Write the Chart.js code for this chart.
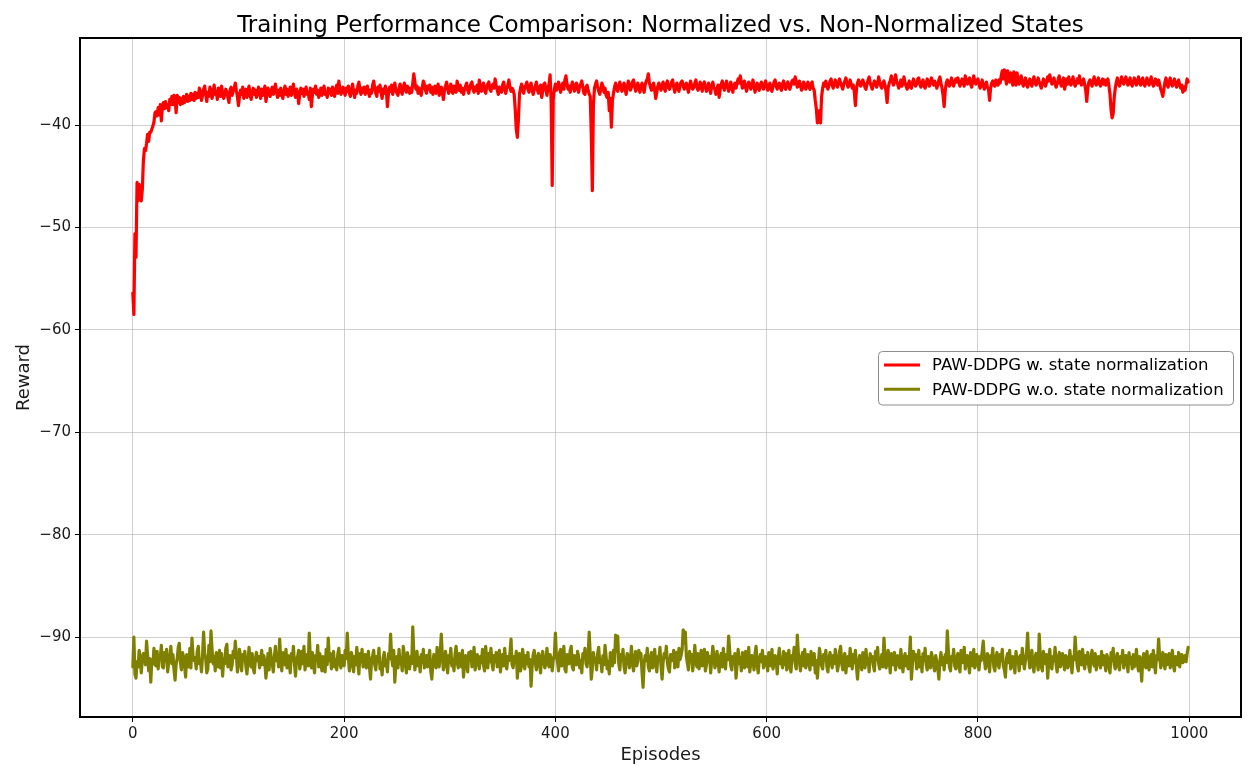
<!DOCTYPE html>
<html><head><meta charset="utf-8">
<script src="https://cdn.jsdelivr.net/npm/chart.js@4.4.0/dist/chart.umd.min.js"></script>
<style>html,body{margin:0;padding:0;background:#fff;overflow:hidden}canvas{display:block}</style>
</head><body>
<canvas id="c" width="1258" height="780" style="width:1258px;height:780px"></canvas>
<script>
const chartTitle = "Training Performance Comparison: Normalized vs. Non-Normalized States";
const xAxisTitle = "Episodes";
const yAxisTitle = "Reward";
const seriesLabels = ["PAW-DDPG w. state normalization", "PAW-DDPG w.o. state normalization"];
const seriesColors = ["#ff0000", "#808000"];
const xTicks = [0, 200, 400, 600, 800, 1000];
const yTicks = [-90, -80, -70, -60, -50, -40];

const rewardNormalized = [
-56.4,-58.5,-50.6,-52.9,-45.6,-47.4,-45.8,-46.8,-47.4,-46.3,-43.5,-42.3,-42.5,-41.8,-40.9,-41.6,-40.7,-40.7,-40.4,-40.1,
-39.7,-38.8,-38.7,-39.1,-38.3,-39.0,-38.0,-39.6,-38.2,-37.8,-38.4,-37.7,-38.3,-38.0,-38.6,-37.5,-38.0,-37.2,-38.0,-37.1,
-37.4,-38.8,-37.1,-37.8,-37.3,-38.0,-37.4,-37.9,-37.2,-37.8,-37.5,-37.0,-37.7,-37.2,-37.6,-36.9,-37.5,-37.0,-37.6,-36.8,
-37.4,-36.9,-37.3,-36.4,-36.7,-37.6,-37.1,-36.5,-36.2,-37.0,-37.7,-36.8,-37.2,-36.3,-36.6,-37.4,-36.9,-36.1,-37.0,-36.7,
-37.5,-36.4,-36.8,-37.2,-36.2,-36.9,-37.4,-37.0,-36.5,-36.8,-37.3,-37.8,-36.6,-36.3,-37.1,-36.7,-36.4,-35.9,-36.6,-37.2,
-38.1,-37.2,-36.6,-37.0,-36.3,-37.4,-36.9,-36.5,-37.3,-36.7,-36.2,-37.1,-37.5,-36.8,-36.4,-37.0,-36.6,-37.3,-36.9,-36.3,
-36.8,-37.4,-36.5,-37.1,-36.7,-36.2,-37.7,-37.0,-36.4,-36.9,-37.2,-36.6,-36.3,-37.0,-36.5,-36.0,-36.8,-37.3,-36.6,-37.1,
-36.4,-36.9,-37.4,-36.7,-36.2,-37.0,-36.5,-37.2,-36.8,-36.3,-37.1,-36.6,-36.0,-36.9,-37.3,-36.5,-36.8,-37.9,-37.0,-36.4,
-36.9,-36.5,-37.2,-36.7,-36.3,-37.0,-36.8,-37.5,-36.4,-38.2,-37.1,-36.5,-36.8,-36.2,-37.0,-36.6,-37.3,-36.9,-36.4,-37.1,
-36.6,-36.2,-37.0,-36.8,-37.3,-36.4,-36.9,-36.5,-37.1,-36.3,-36.7,-37.2,-36.5,-36.1,-36.9,-35.7,-36.4,-37.0,-36.6,-36.3,
-36.8,-37.1,-36.4,-36.7,-36.2,-36.9,-37.2,-36.5,-36.0,-36.7,-37.3,-36.6,-36.9,-36.2,-35.8,-36.5,-37.0,-36.4,-36.8,-36.3,
-37.0,-36.5,-36.2,-36.8,-37.2,-36.6,-36.9,-36.1,-35.7,-36.4,-36.9,-37.2,-36.3,-36.7,-36.1,-36.8,-37.4,-36.5,-36.9,-36.2,
-36.6,-38.2,-36.9,-36.3,-36.7,-36.1,-37.0,-36.5,-35.9,-36.6,-36.9,-37.1,-36.4,-36.0,-36.7,-37.0,-36.3,-35.9,-36.5,-36.8,
-36.2,-36.6,-36.9,-36.4,-36.8,-35.9,-35.0,-35.8,-36.5,-36.2,-36.9,-36.4,-36.7,-37.1,-36.3,-35.7,-36.0,-36.6,-36.9,-36.2,
-36.5,-36.1,-36.8,-36.3,-37.0,-36.6,-36.2,-36.9,-36.4,-36.0,-37.1,-36.7,-36.3,-36.8,-37.5,-36.6,-36.2,-35.8,-36.5,-36.9,
-36.4,-36.0,-36.7,-36.9,-36.2,-36.5,-36.8,-35.7,-36.3,-36.6,-36.1,-36.8,-36.4,-37.0,-36.5,-36.2,-35.9,-36.6,-36.9,-36.3,
-36.0,-35.8,-36.5,-36.8,-36.3,-36.6,-36.1,-36.9,-35.6,-36.2,-36.7,-36.4,-35.9,-36.6,-36.9,-36.3,-36.0,-35.8,-36.5,-36.7,
-36.2,-36.0,-36.4,-35.5,-36.2,-36.6,-37.0,-36.3,-36.5,-36.8,-36.1,-35.8,-36.5,-36.9,-36.4,-36.1,-35.6,-36.3,-36.7,-36.4,
-36.6,-37.0,-38.5,-40.4,-41.2,-39.5,-37.0,-36.4,-36.0,-36.6,-36.9,-36.3,-36.1,-35.8,-36.5,-36.8,-36.2,-35.9,-36.6,-37.0,
-36.5,-36.2,-35.8,-36.6,-36.9,-36.3,-36.1,-37.3,-36.7,-36.0,-35.9,-36.5,-37.1,-36.4,-36.0,-35.1,-37.8,-45.9,-37.4,-36.5,
-36.0,-36.6,-36.3,-35.8,-36.4,-36.8,-36.2,-35.9,-36.5,-35.6,-35.2,-36.0,-36.5,-36.2,-36.8,-36.3,-35.8,-36.1,-36.7,-36.4,
-35.9,-36.4,-36.8,-36.2,-36.0,-35.7,-36.3,-36.9,-37.0,-36.3,-36.1,-36.6,-37.0,-37.2,-41.0,-46.4,-38.0,-36.4,-36.0,-35.7,
-36.3,-36.7,-37.0,-36.5,-35.9,-36.2,-36.8,-36.4,-37.1,-37.3,-36.8,-38.6,-37.4,-40.2,-37.6,-36.9,-36.3,-35.9,-36.4,-36.7,
-36.2,-35.8,-36.3,-36.7,-36.2,-35.9,-36.5,-37.0,-36.3,-35.7,-36.0,-36.6,-36.3,-35.8,-35.6,-36.2,-36.7,-36.4,-35.9,-36.3,
-36.8,-36.3,-35.9,-36.4,-36.8,-36.1,-35.7,-35.5,-35.0,-35.9,-36.3,-36.6,-36.1,-35.9,-36.6,-37.4,-36.8,-36.2,-35.9,-36.3,
-36.6,-36.1,-35.8,-36.4,-36.7,-36.0,-35.7,-36.3,-36.5,-36.2,-35.8,-35.6,-36.3,-36.8,-36.2,-35.9,-36.5,-36.7,-36.1,-35.8,
-35.7,-36.2,-36.5,-36.1,-35.9,-36.4,-36.8,-36.1,-35.7,-36.2,-36.5,-36.3,-35.9,-35.6,-36.3,-36.6,-36.4,-35.8,-36.2,-36.7,
-36.0,-35.8,-36.3,-36.7,-36.3,-35.9,-36.4,-36.9,-36.2,-35.8,-36.3,-36.5,-37.0,-36.4,-36.1,-37.3,-36.5,-36.0,-35.7,-36.3,
-36.6,-36.1,-35.7,-36.2,-36.7,-36.4,-35.8,-36.3,-36.8,-36.1,-35.9,-36.4,-35.9,-35.5,-35.9,-35.2,-35.8,-36.4,-36.1,-35.7,
-36.3,-36.7,-36.2,-35.8,-36.0,-36.5,-36.2,-35.6,-36.2,-36.8,-36.3,-35.9,-36.4,-36.6,-36.1,-35.8,-36.2,-36.5,-36.0,-35.7,
-36.2,-36.6,-36.3,-35.9,-36.5,-36.7,-36.2,-35.8,-35.6,-36.2,-36.5,-36.1,-35.9,-36.4,-36.6,-36.0,-35.7,-36.3,-36.5,-36.0,
-35.8,-36.3,-36.5,-36.1,-35.7,-35.6,-36.0,-35.3,-35.8,-36.3,-36.2,-35.7,-36.1,-36.6,-36.4,-35.8,-36.1,-36.5,-36.2,-35.8,
-36.3,-36.5,-36.0,-35.8,-36.4,-36.6,-37.6,-38.4,-39.8,-39.6,-38.6,-39.8,-37.2,-36.4,-35.9,-36.2,-35.7,-36.2,-36.5,-36.1,
-35.7,-35.5,-36.1,-36.4,-36.0,-35.6,-36.0,-36.3,-35.9,-35.5,-35.9,-36.2,-36.5,-36.0,-35.7,-35.4,-35.9,-36.3,-36.1,-35.6,
-36.0,-36.4,-36.1,-36.8,-38.1,-36.5,-35.9,-35.6,-35.8,-36.2,-36.0,-35.6,-35.9,-36.3,-36.5,-36.0,-35.6,-35.3,-35.9,-36.2,
-36.5,-36.0,-35.7,-35.9,-36.3,-36.0,-35.3,-35.8,-36.2,-36.4,-35.9,-35.7,-36.1,-36.7,-37.8,-36.4,-35.9,-35.7,-35.2,-35.8,
-36.1,-35.8,-35.1,-35.7,-36.0,-36.4,-36.1,-35.6,-36.2,-35.9,-35.3,-35.9,-36.2,-36.5,-36.0,-35.7,-36.3,-36.4,-35.9,-35.5,
-35.9,-36.2,-36.0,-35.5,-35.4,-36.0,-36.3,-35.9,-35.6,-36.2,-36.4,-35.9,-35.5,-35.9,-36.2,-35.8,-35.4,-35.9,-36.1,-35.7,
-36.0,-36.4,-36.1,-35.6,-35.3,-35.9,-36.4,-37.1,-38.2,-36.7,-35.9,-35.6,-36.0,-36.2,-35.8,-35.4,-36.0,-36.2,-35.8,-35.5,
-35.8,-35.4,-35.9,-36.2,-35.8,-35.5,-35.9,-36.2,-35.2,-35.7,-36.0,-35.6,-35.4,-36.0,-36.3,-35.8,-35.2,-35.8,-36.0,-35.7,
-35.5,-36.0,-36.4,-36.1,-35.6,-36.1,-36.5,-36.2,-35.8,-36.3,-36.5,-37.6,-36.4,-35.9,-35.7,-36.1,-36.2,-35.6,-36.0,-36.1,
-35.6,-35.9,-35.2,-34.7,-35.5,-34.6,-35.3,-36.0,-34.7,-35.2,-35.8,-34.9,-35.6,-36.1,-34.8,-35.4,-36.1,-34.9,-35.5,-36.0,
-35.6,-35.2,-35.9,-36.2,-35.8,-35.4,-36.0,-36.3,-35.8,-35.5,-35.9,-36.2,-35.7,-35.3,-35.9,-36.1,-35.8,-35.4,-35.8,-36.1,
-36.4,-35.9,-35.5,-35.9,-36.2,-35.8,-35.3,-35.7,-35.1,-35.6,-36.0,-35.7,-35.4,-36.0,-36.3,-36.0,-35.5,-35.2,-35.9,-36.2,
-35.8,-35.4,-36.5,-36.0,-35.5,-36.0,-35.3,-35.9,-36.1,-35.7,-35.3,-35.9,-36.2,-35.9,-35.5,-35.9,-35.2,-35.8,-36.1,-35.8,
-35.5,-36.0,-36.6,-37.7,-36.4,-35.8,-35.6,-35.9,-36.2,-35.7,-35.3,-35.9,-36.1,-35.7,-35.4,-36.0,-36.2,-35.8,-35.5,-36.0,
-35.6,-36.1,-35.7,-35.5,-36.2,-37.0,-38.5,-39.3,-38.9,-37.3,-36.4,-35.8,-35.4,-36.0,-36.2,-35.8,-35.3,-35.8,-36.0,-35.6,
-35.3,-35.8,-36.1,-35.7,-35.4,-36.0,-36.2,-35.8,-35.4,-35.8,-36.1,-35.7,-35.3,-35.9,-36.1,-35.6,-35.4,-36.0,-36.2,-35.8,
-35.4,-35.9,-36.1,-35.7,-35.3,-35.9,-36.2,-35.9,-35.5,-35.9,-36.1,-35.6,-36.0,-36.5,-36.8,-37.2,-36.5,-35.8,-35.4,-36.0,
-36.3,-35.8,-35.4,-36.0,-36.2,-35.8,-35.5,-36.0,-36.3,-35.9,-35.6,-36.1,-36.4,-36.1,-36.8,-36.3,-36.6,-36.1,-35.5,-35.8
];

const rewardNonNormalized = [
-92.9,-90.0,-93.6,-94.0,-92.4,-92.9,-91.3,-92.0,-93.5,-92.2,-91.6,-91.9,-92.7,-90.4,-91.8,-93.3,-92.1,-94.4,-92.2,-92.6,
-91.1,-92.7,-92.8,-91.4,-93.1,-91.8,-92.0,-90.8,-92.9,-93.0,-91.5,-92.3,-91.2,-93.4,-92.4,-92.0,-90.9,-92.6,-91.7,-93.2,
-94.2,-92.6,-92.1,-91.0,-90.6,-92.4,-93.2,-91.5,-91.9,-92.8,-93.9,-91.7,-92.5,-92.9,-91.1,-93.0,-90.1,-91.9,-92.3,-92.0,
-93.1,-91.4,-90.9,-92.6,-92.3,-93.4,-91.8,-89.5,-91.6,-92.1,-93.5,-93.1,-90.8,-92.4,-89.4,-91.2,-92.6,-91.9,-93.3,-91.5,
-92.4,-92.9,-91.3,-93.0,-91.6,-93.8,-92.1,-92.6,-91.1,-90.7,-92.9,-92.3,-91.8,-93.2,-92.7,-91.4,-92.0,-90.4,-91.7,-93.4,
-92.6,-91.2,-92.0,-93.3,-91.7,-92.2,-91.4,-92.8,-93.6,-92.5,-91.0,-92.4,-92.9,-91.6,-93.1,-93.5,-92.2,-91.5,-92.3,-91.9,
-93.0,-92.1,-91.3,-92.7,-91.8,-92.5,-94.0,-92.8,-91.6,-93.2,-91.1,-92.0,-92.6,-93.4,-91.9,-90.9,-92.3,-91.7,-92.9,-90.2,
-92.2,-93.3,-91.5,-92.0,-92.7,-91.2,-93.0,-91.8,-92.4,-93.5,-91.6,-92.3,-90.9,-92.6,-93.8,-92.1,-91.9,-91.3,-93.1,-92.5,
-91.4,-92.6,-90.9,-93.2,-92.3,-91.7,-92.8,-89.6,-92.0,-93.0,-91.5,-92.4,-93.5,-91.8,-92.2,-90.8,-92.9,-91.6,-92.4,-93.3,
-91.9,-92.5,-93.4,-91.2,-92.7,-90.1,-92.3,-91.6,-93.1,-92.0,-91.4,-92.9,-92.2,-93.2,-91.7,-91.1,-92.6,-93.0,-91.8,-92.3,
-92.8,-91.3,-92.1,-89.6,-91.8,-93.3,-92.6,-91.5,-92.2,-93.4,-91.9,-92.7,-91.0,-92.5,-93.6,-91.6,-92.4,-91.2,-92.9,-92.0,
-91.7,-93.0,-92.5,-91.4,-92.9,-94.1,-92.2,-91.8,-91.3,-92.7,-93.2,-91.9,-92.4,-91.1,-93.1,-92.6,-93.7,-92.0,-91.5,-92.8,
-92.3,-93.4,-91.6,-92.1,-89.7,-92.0,-92.8,-91.3,-94.4,-92.5,-91.9,-93.0,-91.2,-92.6,-92.2,-93.3,-90.9,-91.7,-92.7,-93.5,
-91.5,-92.4,-93.1,-91.9,-92.6,-89.0,-91.6,-93.2,-92.3,-91.4,-92.8,-92.0,-93.4,-91.7,-92.5,-91.2,-93.0,-92.2,-91.8,-92.9,
-92.0,-91.3,-93.3,-94.1,-92.6,-91.7,-92.2,-93.0,-91.0,-92.4,-92.9,-91.5,-89.7,-91.9,-93.2,-92.7,-91.4,-92.3,-93.5,-91.8,
-92.5,-91.1,-92.8,-92.2,-93.3,-91.7,-90.9,-92.4,-93.0,-91.6,-92.1,-92.9,-91.3,-93.9,-92.7,-91.8,-92.3,-93.4,-91.5,-92.0,
-91.4,-92.9,-92.3,-91.0,-93.2,-92.6,-91.7,-92.1,-93.1,-91.9,-92.5,-91.2,-92.8,-93.3,-90.9,-92.2,-93.0,-91.6,-92.4,-91.1,
-92.6,-93.2,-91.8,-92.4,-91.5,-92.9,-92.0,-91.3,-93.4,-92.2,-91.7,-92.8,-91.1,-92.5,-93.1,-91.9,-92.3,-91.6,-90.2,-92.7,
-93.0,-91.9,-92.5,-91.4,-94.0,-92.3,-91.6,-93.3,-92.7,-91.2,-92.1,-93.1,-91.8,-92.6,-91.5,-92.9,-92.2,-94.8,-92.8,-91.7,
-91.3,-92.5,-93.2,-92.0,-91.6,-92.7,-93.5,-91.9,-91.4,-92.3,-93.0,-92.6,-91.1,-92.4,-92.9,-91.7,-92.1,-93.3,-92.2,-91.8,
-89.6,-91.9,-92.4,-93.3,-91.5,-91.2,-92.8,-92.1,-90.9,-93.1,-93.4,-91.7,-92.2,-92.6,-91.3,-90.9,-92.9,-93.2,-91.8,-92.4,
-92.7,-91.4,-91.9,-93.0,-92.3,-93.5,-91.6,-92.0,-91.1,-92.6,-92.9,-91.8,-89.5,-91.7,-94.1,-93.0,-91.5,-92.3,-92.1,-93.2,
-91.6,-91.0,-92.5,-92.2,-93.4,-91.8,-92.7,-90.8,-91.9,-93.1,-92.4,-93.6,-91.5,-92.0,-92.8,-91.3,-92.5,-89.8,-91.4,-89.9,
-92.6,-93.2,-91.7,-92.1,-91.2,-92.9,-93.5,-92.3,-91.6,-91.9,-93.0,-92.2,-90.9,-92.7,-93.3,-92.0,-91.4,-92.8,-92.4,-91.3,
-92.0,-91.6,-93.4,-94.9,-92.6,-91.8,-92.3,-91.1,-92.9,-93.3,-92.1,-91.5,-93.0,-92.5,-91.2,-92.7,-93.4,-91.9,-92.2,-91.0,
-92.8,-94.1,-92.4,-91.6,-92.0,-90.9,-92.5,-93.1,-93.4,-91.7,-92.3,-92.0,-91.3,-93.0,-92.6,-91.5,-92.9,-91.1,-92.2,-91.8,
-91.2,-89.3,-90.6,-89.5,-91.9,-92.6,-93.2,-91.4,-92.1,-91.7,-93.3,-92.2,-90.8,-92.5,-92.9,-91.6,-93.1,-92.4,-91.3,-92.8,
-92.0,-91.2,-93.3,-92.7,-91.5,-92.4,-91.9,-93.5,-92.2,-90.9,-91.8,-93.0,-92.6,-91.4,-92.3,-93.4,-92.0,-91.6,-92.9,-91.1,
-92.5,-93.1,-91.7,-92.2,-89.9,-91.3,-92.8,-93.2,-91.9,-92.4,-91.6,-94.0,-92.7,-91.2,-92.6,-92.0,-93.3,-91.5,-92.1,-93.0,
-91.4,-92.3,-92.9,-91.0,-93.4,-92.5,-91.8,-92.1,-93.2,-91.6,-90.9,-92.7,-93.5,-92.2,-91.7,-92.4,-91.3,-93.0,-92.6,-91.9,
-92.4,-93.3,-91.5,-92.0,-92.8,-91.2,-93.1,-92.5,-91.8,-92.3,-93.6,-91.9,-91.1,-92.6,-92.2,-93.0,-91.4,-92.7,-91.6,-93.2,
-92.1,-91.3,-92.9,-93.4,-91.8,-92.2,-91.0,-92.6,-93.1,-89.8,-91.6,-92.4,-93.3,-92.0,-91.5,-92.8,-91.2,-93.0,-92.3,-91.7,
-92.6,-93.2,-91.4,-92.1,-92.7,-91.6,-93.5,-92.3,-94.0,-92.5,-91.1,-91.9,-92.8,-93.1,-91.7,-92.2,-91.3,-92.9,-93.4,-92.0,
-91.5,-92.4,-93.0,-91.8,-92.6,-91.2,-92.1,-93.3,-92.7,-91.4,-90.9,-92.5,-93.2,-92.0,-91.6,-93.5,-92.3,-91.9,-92.8,-91.1,
-92.2,-93.1,-91.7,-92.5,-91.3,-92.9,-94.1,-92.6,-91.8,-92.0,-93.2,-91.5,-92.4,-93.0,-91.2,-92.7,-92.1,-93.4,-91.6,-92.3,
-91.9,-92.8,-93.3,-91.4,-92.2,-91.0,-92.6,-93.1,-92.4,-91.7,-92.9,-90.1,-91.8,-93.0,-92.5,-91.3,-92.3,-93.5,-91.6,-92.1,
-92.7,-91.5,-93.2,-92.0,-91.8,-92.6,-93.0,-91.2,-92.4,-93.4,-92.1,-91.6,-92.8,-91.9,-93.1,-92.3,-90.0,-94.1,-92.6,-91.4,
-92.2,-91.7,-93.1,-92.5,-91.3,-92.9,-92.0,-93.4,-91.6,-92.3,-91.1,-92.7,-93.2,-91.9,-92.4,-93.0,-91.5,-92.1,-92.8,-93.3,
-91.8,-92.4,-93.0,-94.1,-92.3,-91.5,-92.7,-92.0,-93.2,-91.7,-92.5,-89.4,-91.4,-92.9,-93.3,-91.9,-92.2,-91.2,-92.8,-93.1,
-92.0,-91.6,-92.9,-93.4,-91.3,-92.5,-92.2,-91.0,-93.1,-92.6,-91.8,-92.3,-93.5,-91.5,-92.1,-92.8,-91.2,-93.0,-92.4,-91.7,
-92.6,-93.2,-91.9,-92.3,-91.4,-90.4,-92.0,-93.1,-92.7,-91.6,-92.4,-93.4,-91.8,-92.2,-91.1,-92.9,-93.3,-92.0,-91.5,-92.6,
-93.0,-91.7,-92.3,-91.2,-92.8,-93.2,-93.9,-92.1,-91.6,-92.5,-91.3,-93.1,-92.4,-91.9,-92.7,-93.5,-91.4,-92.2,-92.0,-93.3,
-91.8,-92.6,-91.1,-92.4,-93.1,-92.2,-91.5,-89.6,-91.9,-93.0,-92.5,-91.3,-92.8,-93.4,-92.0,-91.6,-92.3,-93.2,-89.7,-91.8,
-92.9,-93.3,-91.4,-92.1,-92.6,-91.7,-94.0,-92.4,-91.2,-92.8,-93.1,-91.9,-92.3,-91.0,-92.7,-93.4,-92.1,-91.5,-92.9,-92.2,
-91.6,-92.5,-93.2,-91.8,-92.0,-93.0,-92.6,-91.3,-92.4,-93.5,-91.9,-92.2,-90.0,-91.7,-92.8,-93.3,-91.4,-92.1,-92.7,-91.2,
-92.3,-93.1,-91.8,-92.6,-91.5,-92.9,-93.4,-92.0,-91.3,-92.4,-92.8,-91.6,-93.2,-92.2,-91.9,-92.5,-93.0,-91.4,-92.7,-91.8,
-92.4,-93.3,-91.7,-92.1,-92.9,-93.5,-91.5,-92.3,-91.1,-92.7,-93.1,-92.0,-91.6,-92.8,-93.2,-91.9,-92.4,-91.3,-93.0,-92.5,
-91.8,-92.2,-93.4,-91.5,-92.6,-92.0,-93.1,-91.7,-92.9,-92.3,-91.2,-92.7,-93.3,-91.9,-92.5,-94.3,-92.1,-91.6,-92.8,-93.0,
-91.4,-92.6,-93.2,-92.0,-91.7,-92.9,-91.3,-92.4,-93.5,-91.8,-92.2,-90.2,-91.9,-93.0,-92.6,-91.5,-92.3,-93.1,-91.7,-92.7,
-92.1,-91.6,-93.0,-92.4,-91.3,-92.8,-93.3,-91.9,-92.2,-92.7,-91.5,-92.9,-92.0,-91.7,-92.5,-92.2,-91.8,-92.4,-91.6,-91.0
];

const episodes = rewardNormalized.map((_, i) => i);
const FONT = "'DejaVu Sans', 'Liberation Sans', sans-serif";

const decorPlugin = {
  id: 'decor',
  afterDraw(chart) {
    const ctx = chart.ctx, a = chart.chartArea;
    ctx.save();
    ctx.strokeStyle = '#000';
    ctx.lineWidth = 2;
    ctx.strokeRect(a.left, a.top, a.right - a.left, a.bottom - a.top);
    ctx.fillStyle = '#000';
    ctx.font = "23px " + FONT;
    ctx.textAlign = 'center';
    ctx.textBaseline = 'alphabetic';
    ctx.fillText(chartTitle, (a.left + a.right) / 2, 32);
    const bx = 878.5, by = 351.5, bw = 355, bh = 53.5, r = 4;
    ctx.beginPath();
    ctx.moveTo(bx + r, by);
    ctx.lineTo(bx + bw - r, by); ctx.arcTo(bx + bw, by, bx + bw, by + r, r);
    ctx.lineTo(bx + bw, by + bh - r); ctx.arcTo(bx + bw, by + bh, bx + bw - r, by + bh, r);
    ctx.lineTo(bx + r, by + bh); ctx.arcTo(bx, by + bh, bx, by + bh - r, r);
    ctx.lineTo(bx, by + r); ctx.arcTo(bx, by, bx + r, by, r);
    ctx.closePath();
    ctx.fillStyle = 'rgba(255,255,255,0.9)';
    ctx.fill();
    ctx.strokeStyle = '#8c8c8c';
    ctx.lineWidth = 1;
    ctx.stroke();
    ctx.font = "16.5px " + FONT;
    ctx.textAlign = 'left';
    ctx.textBaseline = 'middle';
    chart.data.datasets.forEach((ds, i) => {
      const y = 365 + i * 24.3;
      ctx.strokeStyle = ds.borderColor;
      ctx.lineWidth = 3;
      ctx.beginPath(); ctx.moveTo(884, y); ctx.lineTo(920, y); ctx.stroke();
      ctx.fillStyle = '#000';
      ctx.fillText(ds.label, 932, y + 1);
    });
    ctx.restore();
  }
};

const gridColor = 'rgba(176,176,176,0.6)';
new Chart(document.getElementById('c'), {
  type: 'line',
  data: {
    datasets: [
      { label: seriesLabels[0], data: episodes.map(i => ({x: i, y: rewardNormalized[i]})), borderColor: seriesColors[0], backgroundColor: seriesColors[0] },
      { label: seriesLabels[1], data: episodes.map(i => ({x: i, y: rewardNonNormalized[i]})), borderColor: seriesColors[1], backgroundColor: seriesColors[1] }
    ]
  },
  options: {
    responsive: false,
    animation: false,
    events: [],
    layout: { padding: { left: 10, top: 38, right: 17, bottom: 12 } },
    elements: { point: { radius: 0 }, line: { borderWidth: 3.2, tension: 0, borderJoinStyle: 'round', borderCapStyle: 'round' } },
    plugins: { legend: { display: false }, title: { display: false }, tooltip: { enabled: false } },
    scales: {
      x: {
        type: 'linear', min: -50, max: 1049,
        afterBuildTicks: s => { s.ticks = xTicks.map(v => ({ value: v })); },
        afterFit: s => { s.height = 51; s.paddingLeft = 0; s.paddingRight = 0; },
        grid: { color: gridColor, lineWidth: 1, drawTicks: true, tickLength: 5, tickColor: '#000', tickWidth: 1 },
        border: { display: false },
        ticks: { font: { family: FONT, size: 15 }, color: '#1a1a1a', padding: 3, maxRotation: 0, autoSkip: false, callback: v => String(v) },
        title: { display: true, text: xAxisTitle, font: { family: FONT, size: 18 }, color: '#1a1a1a', padding: { top: 2, bottom: 2 } }
      },
      y: {
        type: 'linear', min: -97.8, max: -31.5,
        afterBuildTicks: s => { s.ticks = yTicks.map(v => ({ value: v })); },
        afterFit: s => { s.width = 70; s.paddingTop = 0; s.paddingBottom = 0; },
        grid: { color: gridColor, lineWidth: 1, drawTicks: true, tickLength: 5, tickColor: '#000', tickWidth: 1 },
        border: { display: false },
        ticks: { font: { family: FONT, size: 15 }, color: '#1a1a1a', padding: 4, autoSkip: false, callback: v => (v < 0 ? '\u2212' : '') + Math.abs(v) },
        title: { display: true, text: yAxisTitle, font: { family: FONT, size: 18 }, color: '#1a1a1a', padding: { top: 4, bottom: 4 } }
      }
    }
  },
  plugins: [decorPlugin]
});
</script>
</body></html>
